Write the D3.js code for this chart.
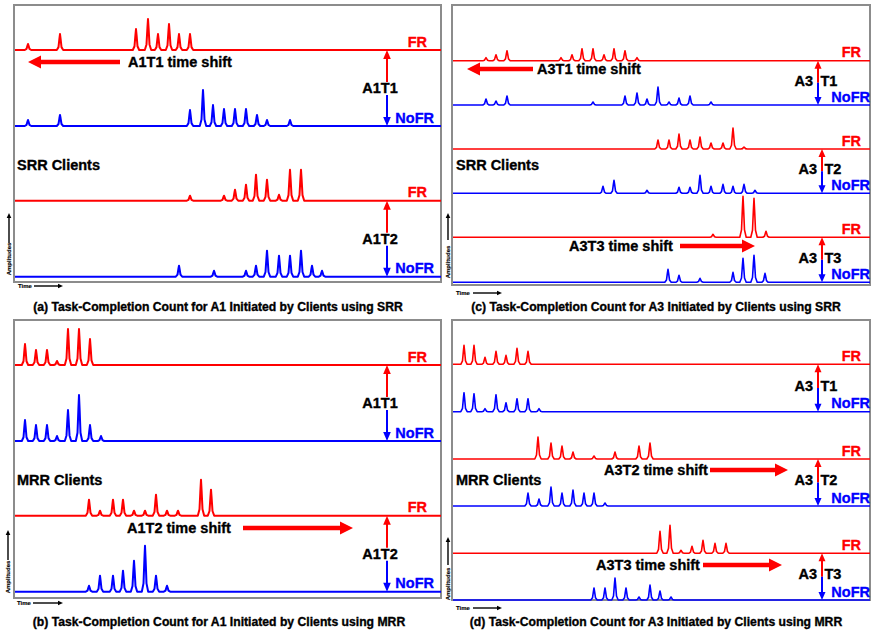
<!DOCTYPE html>
<html>
<head>
<meta charset="utf-8">
<script src="https://cdn.jsdelivr.net/npm/d3@7"></script>
<style>
body { margin: 0; background: #fff; }
text { font-family: "Liberation Sans", Arial, sans-serif; font-weight: bold; }
</style>
</head>
<body>
<svg id="chart" width="871" height="634"></svg>
<script>
// peaks are [time, amplitude] (time in arbitrary units)
var aFR1   = [[14,6],[46,16],[122,21],[134,31],[144,16],[155,26],[165,16],[176,16]];
var aNoFR1 = [[14,6],[46,11],[176,16],[189,36],[199,21],[210,17],[221,17],[232,17],[243,11],[253,6],[276,6]];
var aFR2   = [[176,5],[210,5],[221,11],[232,16],[242,26],[253,21],[265,6],[276,31],[287,31]];
var aNoFR2 = [[165,11],[200,6],[232,6],[242,11],[253,26],[265,21],[276,21],[287,26],[298,11],[308,6]];

var bFR1   = [[11,21],[22,15],[33,15],[43,4],[54,36],[65,36],[76,26]];
var bNoFR1 = [[11,21],[22,16],[33,16],[43,5],[54,31],[65,46],[76,16],[87,5]];
var bFR2   = [[75,16],[86,5],[99,16],[109,16],[120,5],[131,5],[142,21],[153,5],[164,5],[187,36],[197,26]];
var bNoFR2 = [[75,6],[86,16],[99,16],[109,21],[120,31],[131,46],[142,16],[153,6]];

var cFR1   = [[34,3],[44,6],[55,10],[109,3],[120,6],[130,12],[141,12],[152,6],[162,12],[173,10],[185,3]];
var cNoFR1 = [[34,6],[44,4],[55,9],[141,3],[173,9],[185,12],[195,6],[206,18],[217,3],[227,7],[238,9],[259,3]];
var cFR2   = [[206,9],[217,9],[227,15],[238,9],[248,12],[259,6],[271,6],[281,21],[292,2]];
var cNoFR2 = [[151,7],[162,13],[195,3],[227,6],[238,6],[248,18],[259,7],[271,9],[281,7],[292,9],[303,3]];
var cFR3   = [[261,3],[291,41],[302,39],[314,6]];
var cNoFR3 = [[216,13],[227,7],[248,4],[281,10],[291,24],[302,27],[313,9]];

var dFR1   = [[12,19],[22,19],[33,7],[44,13],[54,9],[65,16],[76,13]];
var dNoFR1 = [[12,19],[22,18],[33,3],[44,17],[54,9],[65,13],[76,13],[87,3]];
var dFR2   = [[86,22],[99,16],[110,13],[121,7],[142,3],[163,7],[187,13],[198,16]];
var dNoFR2 = [[76,13],[87,7],[99,19],[110,13],[121,16],[132,13],[142,13],[153,3]];
var dFR3   = [[208,22],[218,28],[229,3],[240,7],[251,13],[263,10],[274,10]];
var dNoFR3 = [[142,12],[153,12],[163,22],[174,12],[187,3],[198,15],[208,9],[219,3]];

var seriesNames = ["FR", "NoFR"];
var captions = [
  "(a) Task-Completion Count for A1 Initiated by Clients using SRR",
  "(b) Task-Completion Count for A1 Initiated by Clients using MRR",
  "(c) Task-Completion Count for A3 Initiated by Clients using SRR",
  "(d) Task-Completion Count for A3 Initiated by Clients using MRR"
];
var pairLabelsA1 = ["A1T1", "A1T2"];
var pairLabelsA3 = ["A3 T1", "A3 T2", "A3 T3"];

var RED = "#ff0000", BLUE = "#0000ff", GRAY = "#8c8c8c";
var svg = d3.select("#chart");

// layout of the four sub-figures
var panels = [
  { box: [14, 5, 441, 282], span: 427, lw: 2, wide: true,
    series: [aFR1, aNoFR1, aFR2, aNoFR2], bases: [50, 126, 200.7, 276.7],
    pairs: pairLabelsA1, clients: "SRR Clients", clientY: 170,
    caption: captions[0], capX: 218, capY: 311,
    shifts: [{ label: "A1T1 time shift", y: 62, tail: 120, tip: 28, tx: 128 }],
    amp: { x: 9, y0: 243, y1: 213, ty: 259 }, time: { tx: 18, y: 286, x0: 34, x1: 63 } },
  { box: [14, 320, 441, 598], span: 427, lw: 2, wide: true,
    series: [bFR1, bNoFR1, bFR2, bNoFR2], bases: [365, 441, 515.7, 591.7],
    pairs: pairLabelsA1, clients: "MRR Clients", clientY: 485,
    caption: captions[1], capX: 219, capY: 626,
    shifts: [{ label: "A1T2 time shift", y: 528, tail: 243, tip: 353, tx: 127 }],
    amp: { x: 8, y0: 560, y1: 530, ty: 577 }, time: { tx: 17, y: 603, x0: 33, x1: 63 } },
  { box: [452, 5, 870, 285], span: 418, lw: 1.6, wide: false,
    series: [cFR1, cNoFR1, cFR2, cNoFR2, cFR3, cNoFR3], bases: [60.7, 105, 149, 193.3, 237.3, 282.3],
    pairs: pairLabelsA3, arrowX: [818, 822, 822], clients: "SRR Clients", clientY: 170,
    caption: captions[2], capX: 656, capY: 311,
    shifts: [{ label: "A3T1 time shift", y: 69, tail: 533, tip: 467, tx: 537 },
             { label: "A3T3 time shift", y: 246, tail: 680, tip: 755, tx: 569 }],
    amp: { x: 448, y0: 240, y1: 213, ty: 262 }, time: { tx: 456, y: 293, x0: 473, x1: 502 } },
  { box: [452, 320, 870, 600], span: 418, lw: 1.6, wide: false,
    series: [dFR1, dNoFR1, dFR2, dNoFR2, dFR3, dNoFR3], bases: [364.3, 411.7, 459, 506, 553.3, 600],
    pairs: pairLabelsA3, arrowX: [818, 818, 822], clients: "MRR Clients", clientY: 485,
    caption: captions[3], capX: 656, capY: 626,
    shifts: [{ label: "A3T2 time shift", y: 470, tail: 710, tip: 788, tx: 604 },
             { label: "A3T3 time shift", y: 565, tail: 703, tip: 782, tx: 596 }],
    amp: { x: 448, y0: 565, y1: 537, ty: 584 }, time: { tx: 456, y: 608, x0: 473, x1: 502 } }
];

var amp = d3.scaleLinear().domain([0, 50]).range([0, 50]);

// turn a list of peaks into a trace: flat baseline with narrow spikes
function tracePoints(peaks, t0, t1) {
  var pts = [[t0, 0]];
  peaks.forEach(function (p) {
    var t = p[0], h = p[1];
    pts.push([t - 3.2, 0], [t - 1.5, h * 0.18], [t - 0.6, h * 0.7], [t, h],
             [t + 0.6, h * 0.7], [t + 1.5, h * 0.18], [t + 3.2, 0]);
  });
  pts.push([t1, 0]);
  return pts;
}

function head(g, x, y, dir, color, w, len) {
  // dir: "up", "down", "left", "right"
  var pts;
  if (dir == "up") pts = [[x, y], [x - w, y + len], [x + w, y + len]];
  else if (dir == "down") pts = [[x, y], [x - w, y - len], [x + w, y - len]];
  else if (dir == "left") pts = [[x, y], [x + len, y - w], [x + len, y + w]];
  else pts = [[x, y], [x - len, y - w], [x - len, y + w]];
  g.append("polygon").attr("points", pts.map(function (p) { return p.join(","); }).join(" "))
    .attr("fill", color);
}

// bold text, thickened a little like the original bitmap
function label(g, x, y, str, size, color, anchor) {
  return g.append("text").attr("x", x).attr("y", y)
    .attr("text-anchor", anchor || "start").attr("font-size", size)
    .attr("fill", color).attr("stroke", color).attr("stroke-width", size > 8 ? 0.35 : 0.15)
    .text(str);
}

panels.forEach(function (p) {
  var g = svg.append("g");
  var x = d3.scaleLinear().domain([0, p.span]).range([p.box[0], p.box[2]]);

  // frame
  g.append("path")
    .attr("d", "M" + p.box[0] + "," + p.box[1] + "H" + p.box[2] + "V" + p.box[3] + "H" + p.box[0] + "Z")
    .attr("fill", "none").attr("stroke", GRAY).attr("stroke-width", 2);

  p.series.forEach(function (peaks, i) {
    var base = p.bases[i];
    var color = i % 2 == 0 ? RED : BLUE;
    var line = d3.line()
      .x(function (d) { return x(d[0]); })
      .y(function (d) { return base - amp(d[1]); });
    g.append("path")
      .attr("d", line(tracePoints(peaks, 1, p.span)))
      .attr("fill", "none").attr("stroke", color)
      .attr("stroke-width", p.lw).attr("stroke-linejoin", "round");

    var isFR = i % 2 == 0;
    var endX = p.wide ? (isFR ? 427 : 434) : (isFR ? 861 : 870);
    label(g, endX, base - 3.5, seriesNames[i % 2], 14.5, color, "end");
  });

  // FR / NoFR pair arrows
  p.pairs.forEach(function (lab, k) {
    var top = p.bases[2 * k], bot = p.bases[2 * k + 1];
    if (p.wide) {
      var ax = 387, tc = top + 38;
      g.append("line").attr("x1", ax).attr("x2", ax).attr("y1", top + 6).attr("y2", tc - 6)
        .attr("stroke", RED).attr("stroke-width", 2);
      head(g, ax, top, "up", RED, 3.8, 9);
      g.append("line").attr("x1", ax).attr("x2", ax).attr("y1", tc + 7).attr("y2", bot - 6)
        .attr("stroke", BLUE).attr("stroke-width", 2);
      head(g, ax, bot, "down", BLUE, 3.8, 9);
      label(g, 380, tc + 5.2, lab, 14.5, "#000", "middle");
    } else {
      var bx = p.arrowX[k], mid = (top + bot) / 2;
      g.append("line").attr("x1", bx).attr("x2", bx).attr("y1", top + 6).attr("y2", mid)
        .attr("stroke", RED).attr("stroke-width", 2);
      head(g, bx, top, "up", RED, 3.5, 8);
      g.append("line").attr("x1", bx).attr("x2", bx).attr("y1", mid).attr("y2", bot - 6)
        .attr("stroke", BLUE).attr("stroke-width", 2);
      head(g, bx, bot, "down", BLUE, 3.5, 8);
      var parts = lab.split(" ");
      label(g, bx - 5, mid + 2.7, parts[0], 14.5, "#000", "end");
      label(g, bx + 2.5, mid + 2.7, parts[1], 14.5, "#000", "start");
    }
  });

  // time shift arrows
  p.shifts.forEach(function (s) {
    var dir = s.tip < s.tail ? "left" : "right";
    var shaftEnd = dir == "left" ? s.tip + 11 : s.tip - 11;
    g.append("line").attr("x1", s.tail).attr("x2", shaftEnd).attr("y1", s.y).attr("y2", s.y)
      .attr("stroke", RED).attr("stroke-width", 4.5);
    head(g, s.tip, s.y, dir, RED, 6.5, 13);
    label(g, s.tx, s.y + 5.2, s.label, 14.5, "#000");
  });

  label(g, p.box[0] + (p.wide ? 3 : 4), p.clientY, p.clients, 14.5, "#000");

  // small amplitude / time indicators
  g.append("line").attr("x1", p.amp.x).attr("x2", p.amp.x).attr("y1", p.amp.y0).attr("y2", p.amp.y1 + 4)
    .attr("stroke", "#000").attr("stroke-width", 1.4);
  head(g, p.amp.x, p.amp.y1, "up", "#000", 2.3, 5);
  label(g, 0, 0, "Amplitudes", 6, "#000", "middle")
    .attr("transform", "translate(" + (p.amp.x + 2) + "," + p.amp.ty + ") rotate(-90)");
  label(g, p.time.tx, p.time.y + 2, "Time", 6, "#000");
  g.append("line").attr("x1", p.time.x0).attr("x2", p.time.x1 - 4).attr("y1", p.time.y).attr("y2", p.time.y)
    .attr("stroke", "#000").attr("stroke-width", 1.4);
  head(g, p.time.x1, p.time.y, "right", "#000", 2.3, 5);

  label(g, p.capX, p.capY, p.caption, 12.2, "#000", "middle");
});
</script>
</body>
</html>
